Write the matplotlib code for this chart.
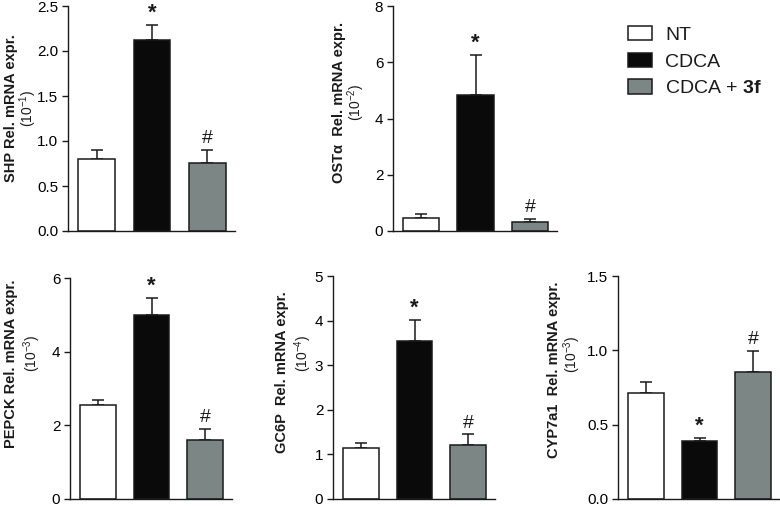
import matplotlib
matplotlib.use("Agg")
import matplotlib.pyplot as plt
from matplotlib.patches import Patch
import numpy as np

plt.rcParams['font.family'] = ['Liberation Sans', 'DejaVu Sans']
plt.rcParams['mathtext.fontset'] = 'custom'
plt.rcParams['mathtext.rm'] = 'Liberation Sans'
plt.rcParams['mathtext.bf'] = 'Liberation Sans:bold'
plt.rcParams['text.color'] = '#1a1a1a'

groups = ['NT', 'CDCA', 'CDCA + $\\mathbf{3f}$']
colors = ['white', '#0a0a0a', '#7b8685']

shp = [0.80, 2.12, 0.76]
shp_err = [0.10, 0.17, 0.14]
ost = [0.45, 4.85, 0.33]
ost_err = [0.17, 1.40, 0.10]
pepck = [2.55, 5.00, 1.60]
pepck_err = [0.13, 0.45, 0.30]
gc6p = [1.15, 3.55, 1.20]
gc6p_err = [0.10, 0.47, 0.25]
cyp = [0.71, 0.39, 0.855]
cyp_err = [0.08, 0.02, 0.14]

marks = ['', '*', '#']

fig = plt.figure(figsize=(7.8, 5.07), dpi=100)


def panel(rect, vals, errs, ticks, fmt, label, exp, lx, ly, ex, ey):
    ax = fig.add_axes(rect)
    x = np.arange(3)
    ax.bar(x, vals, width=0.667, color=colors, edgecolor='#1a1a1a', linewidth=1.1, zorder=2)
    ax.errorbar(x, vals, yerr=[[0, 0, 0], errs], fmt='none', ecolor='#1a1a1a',
                elinewidth=1.1, capsize=4.5, capthick=1.1, zorder=1)
    for i in range(3):
        if marks[i] == '*':
            ax.annotate('*', (x[i], vals[i] + errs[i]), xytext=(0, 1),
                        textcoords='offset points', ha='center', va='bottom',
                        fontsize=16, fontweight='bold', clip_on=False)
        elif marks[i] == '#':
            ax.annotate('#', (x[i], vals[i] + errs[i]), xytext=(0, 2),
                        textcoords='offset points', ha='center', va='bottom',
                        fontsize=14, clip_on=False)
    ax.set_xlim(-0.52, 2.5)
    ax.set_ylim(0, ticks[-1])
    ax.set_yticks(ticks)
    ax.set_yticklabels([fmt % t for t in ticks], fontsize=11)
    ax.set_xticks([])
    for s in ['top', 'right']:
        ax.spines[s].set_visible(False)
    for s in ['left', 'bottom']:
        ax.spines[s].set_linewidth(1.0)
        ax.spines[s].set_color('#1a1a1a')
    ax.tick_params(axis='y', length=4, width=1.0, color='#1a1a1a', pad=3)
    w = rect[2] * 780
    ax.text(lx / w, ly, label, transform=ax.transAxes, rotation=90,
            ha='center', va='center', fontsize=10.5, fontweight='bold')
    ax.text(ex / w, ey, exp, transform=ax.transAxes, rotation=90,
            ha='center', va='center', fontsize=10)
    return ax


panel([68 / 780, 1 - 231 / 507, 167 / 780, 225 / 507], shp, shp_err,
      [0, 0.5, 1.0, 1.5, 2.0, 2.5], '%.1f', 'SHP Rel. mRNA expr.', '(10$^{-1}$)',
      -57, 0.547, -40, 0.544)
panel([393 / 780, 1 - 231 / 507, 164 / 780, 225 / 507], ost, ost_err,
      [0, 2, 4, 6, 8], '%d', 'OSTα  Rel. mRNA expr.', '(10$^{-2}$)',
      -54, 0.573, -37, 0.573)
panel([70 / 780, 1 - 499 / 507, 162 / 780, 221 / 507], pepck, pepck_err,
      [0, 2, 4, 6], '%d', 'PEPCK Rel. mRNA expr.', '(10$^{-3}$)',
      -59, 0.61, -38, 0.66)
panel([333 / 780, 1 - 499 / 507, 162 / 780, 223 / 507], gc6p, gc6p_err,
      [0, 1, 2, 3, 4, 5], '%d', 'GC6P  Rel. mRNA expr.', '(10$^{-4}$)',
      -51, 0.57, -30, 0.655)
panel([618 / 780, 1 - 499 / 507, 162 / 780, 223 / 507], cyp, cyp_err,
      [0, 0.5, 1.0, 1.5], '%.1f', 'CYP7a1  Rel. mRNA expr.', '(10$^{-3}$)',
      -64, 0.58, -46, 0.65)

handles = [Patch(facecolor=c, edgecolor='#1a1a1a', linewidth=1.1) for c in colors]
fig.legend(handles, groups, loc='upper left', bbox_to_anchor=(628 / 780, 1 - 26 / 507),
           frameon=False, fontsize=14, handlelength=1.25, handleheight=0.75,
           handletextpad=0.65, labelspacing=0.45, borderaxespad=0, borderpad=0)

fig.savefig('out.png', dpi=100)
